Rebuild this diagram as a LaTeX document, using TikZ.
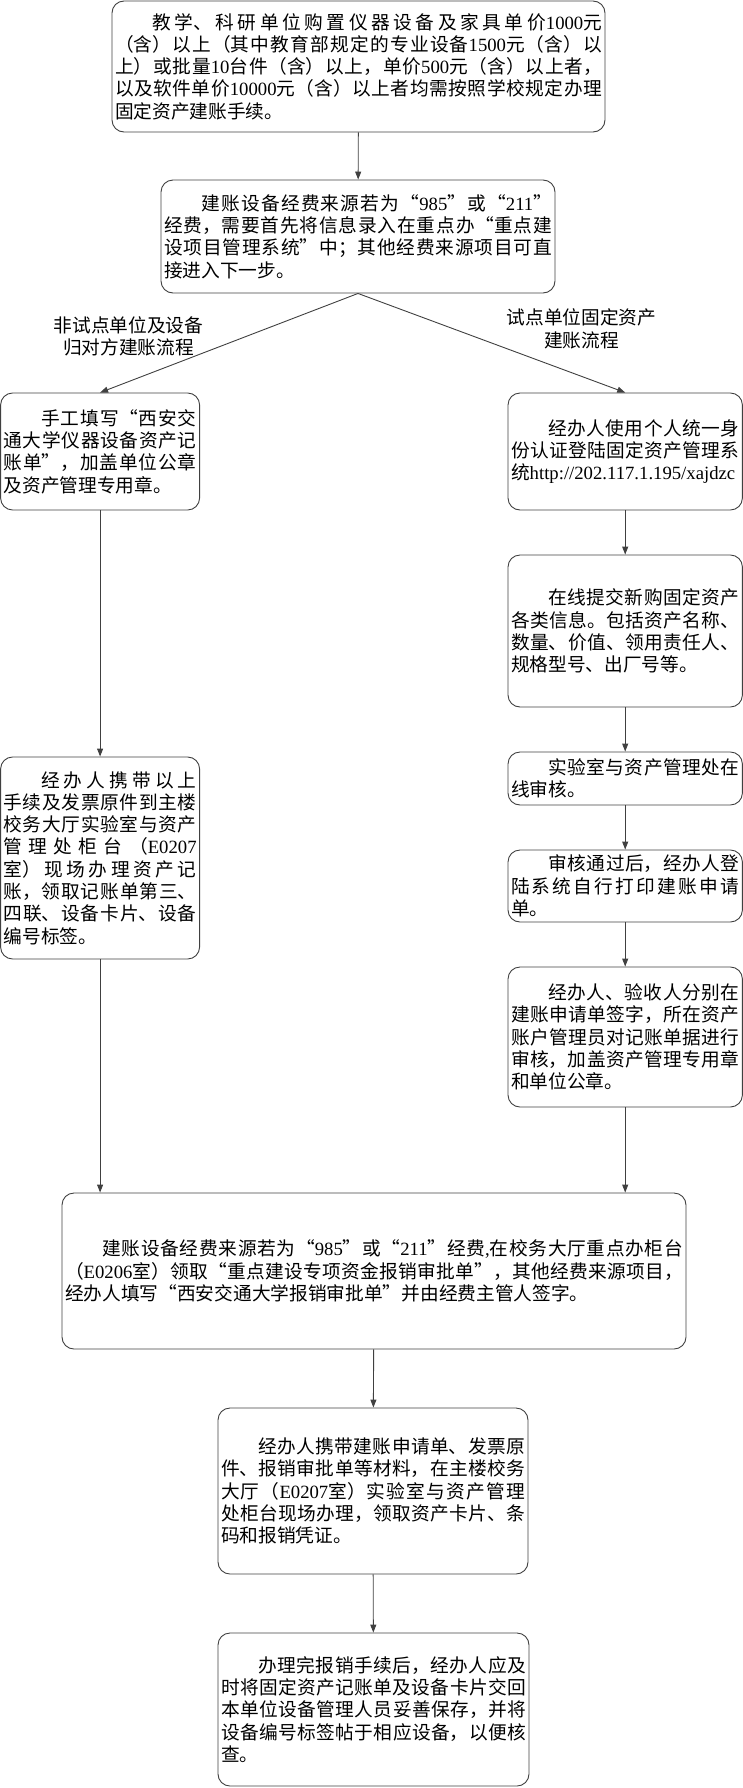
\documentclass[tikz,border=0pt]{standalone}
\usepackage{fontspec}
\setmainfont{Noto Sans CJK SC}
\newfontfamily\latinfont{Liberation Serif}
\newcommand{\lat}[1]{{\latinfont #1}}
\usetikzlibrary{positioning, arrows.meta}
\XeTeXlinebreaklocale "zh"
\XeTeXlinebreakskip=0pt plus 4pt
\definecolor{linegray}{HTML}{404040}
\tikzset{
    box/.style={draw=linegray, line width=0.9pt, rounded corners=12pt, align=justify,
        inner xsep=3pt, inner ysep=0pt, font=\fontsize{18.7}{22.3}\selectfont},
    branch/.style={align=center, font=\fontsize{18.7}{22.3}\selectfont},
    flow/.style={-{Triangle[length=8pt,width=6pt]},
        every edge/.append style={draw=linegray, line width=0.9pt}},
}

\begin{document}
\begin{tikzpicture}[x=1pt, y=-1pt]
\useasboundingbox (0,0) rectangle (743,1788);

\node[box, text width=487pt, minimum height=131pt] (start) at (358.5,66.5)
    {\hspace*{2em}教学、科研单位购置仪器设备及家具单价\lat{1000}元\linebreak
    （含）以上（其中教育部规定的专业设备\lat{1500}元（含）以\linebreak
    上）或批量\lat{10}台件（含）以上，单价\lat{500}元（含）以上者，\linebreak
    以及软件单价\lat{10000}元（含）以上者均需按照学校规定办理\linebreak
    固定资产建账手续。};
\node[box, text width=388pt, minimum height=113pt] (source) at (358,236.5)
    {\hspace*{2em}建账设备经费来源若为“\lat{985}”或“\lat{211}”\linebreak
    经费，需要首先将信息录入在重点办“重点建\linebreak
    设项目管理系统”中；其他经费来源项目可直\linebreak
    接进入下一步。};

\node[branch] (leftlab) at (128.5,336.5) {非试点单位及设备\\归对方建账流程};
\node[branch] (rightlab) at (581.5,329) {试点单位固定资产\\建账流程};

% left branch
\node[box, text width=193pt, minimum height=117pt] (manual) at (100.1,451.5)
    {\hspace*{2em}手工填写“西安交\linebreak
    通大学仪器设备资产记\linebreak
    账单”，加盖单位公章\linebreak
    及资产管理专用章。};
\node[box, text width=193pt, minimum height=202pt] (carry) at (100.1,858)
    {\hspace*{2em}经办人携带以上\linebreak
    手续及发票原件到主楼\linebreak
    校务大厅实验室与资产\linebreak
    管理处柜台（\lat{E0207}\linebreak
    室）现场办理资产记\linebreak
    账，领取记账单第三、\linebreak
    四联、设备卡片、设备\linebreak
    编号标签。};

% right branch
\node[box, text width=228.4pt, minimum height=117pt] (login) at (625.2,451.5)
    {\hspace*{2em}经办人使用个人统一身\linebreak
    份认证登陆固定资产管理系\linebreak
    统\lat{http://202.117.1.195/xajdzc}};
\node[box, text width=228.4pt, minimum height=152pt] (submit) at (625.2,631)
    {\hspace*{2em}在线提交新购固定资产\linebreak
    各类信息。包括资产名称、\linebreak
    数量、价值、领用责任人、\linebreak
    规格型号、出厂号等。};
\node[box, text width=228.4pt, minimum height=53pt] (review) at (625.2,778.5)
    {\hspace*{2em}实验室与资产管理处在\linebreak
    线审核。};
\node[box, text width=228.4pt, minimum height=72pt] (print) at (625.2,886)
    {\hspace*{2em}审核通过后，经办人登\linebreak
    陆系统自行打印建账申请\linebreak
    单。};
\node[box, text width=228.4pt, minimum height=140pt] (sign) at (625.2,1037)
    {\hspace*{2em}经办人、验收人分别在\linebreak
    建账申请单签字，所在资产\linebreak
    账户管理员对记账单据进行\linebreak
    审核，加盖资产管理专用章\linebreak
    和单位公章。};

% common steps
\node[box, text width=618pt, minimum height=156pt] (report) at (374,1271)
    {\hspace*{2em}建账设备经费来源若为“\lat{985}”或“\lat{211}”经费\lat{,}在校务大厅重点办柜台\linebreak
    （\lat{E0206}室）领取“重点建设专项资金报销审批单”，其他经费来源项目，\linebreak
    经办人填写“西安交通大学报销审批单”并由经费主管人签字。};
\node[box, text width=304pt, minimum height=166pt] (handle) at (373,1491)
    {\hspace*{2em}经办人携带建账申请单、发票原\linebreak
    件、报销审批单等材料，在主楼校务\linebreak
    大厅（\lat{E0207}室）实验室与资产管理\linebreak
    处柜台现场办理，领取资产卡片、条\linebreak
    码和报销凭证。};
\node[box, text width=305pt, minimum height=153pt] (finish) at (373.5,1709.5)
    {\hspace*{2em}办理完报销手续后，经办人应及\linebreak
    时将固定资产记账单及设备卡片交回\linebreak
    本单位设备管理人员妥善保存，并将\linebreak
    设备编号标签帖于相应设备，以便核\linebreak
    查。};

\path[flow]
    (start) edge (source)
    (source.south) edge (manual.north)
    (source.south) edge (login.north)
    (manual) edge (carry)
    (carry) edge (carry |- report.north)
    (login) edge (submit)
    (submit) edge (review)
    (review) edge (print)
    (print) edge (sign)
    (sign) edge (sign |- report.north)
    (report) edge (handle)
    (handle) edge (finish);
\end{tikzpicture}
\end{document}
